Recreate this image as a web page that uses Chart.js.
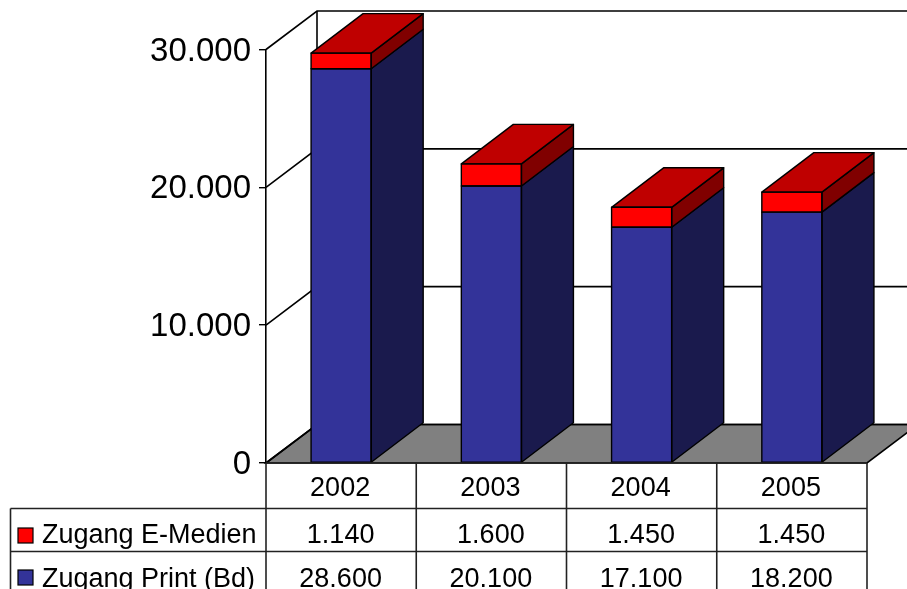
<!DOCTYPE html>
<html>
<head>
<meta charset="utf-8">
<style>
  html, body { margin: 0; padding: 0; background: #fff; overflow: hidden; }
  canvas { display: block; }
</style>
<script src="https://cdn.jsdelivr.net/npm/chart.js@4"></script>
</head>
<body>
<canvas id="myChart" width="907" height="589"></canvas>
<script>
const years = ["2002", "2003", "2004", "2005"];
const zugangPrint = [28600, 20100, 17100, 18200];
const zugangEMedien = [1140, 1600, 1450, 1450];
const yTicks = [0, 10000, 20000, 30000];
const labelEMedien = "Zugang E-Medien";
const labelPrint = "Zugang Print (Bd)";

const fontName = "'Liberation Sans', Arial, sans-serif";

function fmt(v) {
    return v.toLocaleString("de-DE");
}

function poly(ctx, pts, fill) {
    ctx.beginPath();
    ctx.moveTo(pts[0][0], pts[0][1]);
    for (let i = 1; i < pts.length; i++) ctx.lineTo(pts[i][0], pts[i][1]);
    ctx.closePath();
    if (fill) {
        ctx.fillStyle = fill;
        ctx.fill();
    }
    ctx.stroke();
}

function hline(ctx, x1, x2, y) {
    ctx.beginPath();
    ctx.moveTo(x1, y);
    ctx.lineTo(x2, y);
    ctx.stroke();
}

function vline(ctx, x, y1, y2) {
    ctx.beginPath();
    ctx.moveTo(x, y1);
    ctx.lineTo(x, y2);
    ctx.stroke();
}

// walls, floor and gridlines behind the bars
const wallsPlugin = {
    id: "walls",
    beforeDatasetsDraw(chart) {
        const ctx = chart.ctx;
        const a = chart.chartArea;
        const yScale = chart.scales.y;
        const dx = 51, dy = 38.5;
        const y0 = yScale.getPixelForValue(0);
        ctx.save();
        ctx.strokeStyle = "#000";
        ctx.lineWidth = 1.6;
        poly(ctx, [[a.left, y0], [a.left + dx, y0 - dy], [a.right + dx, y0 - dy], [a.right, y0]], "#808080");
        yTicks.forEach(function (t) {
            const y = yScale.getPixelForValue(t);
            ctx.beginPath();
            ctx.moveTo(a.left, y);
            ctx.lineTo(a.left + dx, y - dy);
            ctx.lineTo(a.right + dx, y - dy);
            ctx.stroke();
        });
        vline(ctx, a.left + dx, yScale.getPixelForValue(30000) - dy, y0 - dy);
        ctx.restore();
    },
    // side and top faces of the stacked bars, then the outlines of the front
    afterDatasetsDraw(chart) {
        const ctx = chart.ctx;
        const dx = 52, dy = 39.5;
        const printBars = chart.getDatasetMeta(0).data;
        const eBars = chart.getDatasetMeta(1).data;
        ctx.save();
        ctx.strokeStyle = "#000";
        ctx.lineWidth = 1.4;
        ctx.lineJoin = "round";
        printBars.forEach(function (bar, i) {
            const r = bar.x + bar.width / 2;
            const l = bar.x - bar.width / 2;
            const top = eBars[i];
            poly(ctx, [[r, bar.base], [r + dx, bar.base - dy], [r + dx, bar.y - dy], [r, bar.y]], "#1a1a4d");
            poly(ctx, [[r, bar.y], [r + dx, bar.y - dy], [r + dx, top.y - dy], [r, top.y]], "#800000");
            poly(ctx, [[l, top.y], [l + dx, top.y - dy], [r + dx, top.y - dy], [r, top.y]], "#bf0000");
            poly(ctx, [[l, bar.base], [r, bar.base], [r, bar.y], [l, bar.y]]);
            poly(ctx, [[l, bar.y], [r, bar.y], [r, top.y], [l, top.y]]);
        });
        ctx.restore();
    },
    // data table under the plot
    afterDraw(chart) {
        const ctx = chart.ctx;
        const a = chart.chartArea;
        const xScale = chart.scales.x;
        const row1 = 508.5, row2 = 551.5, h = chart.height;
        const tableLeft = 10.5;
        ctx.save();
        ctx.strokeStyle = "#222";
        ctx.lineWidth = 1.6;
        hline(ctx, a.left, a.right, a.bottom);
        hline(ctx, tableLeft, a.right, row1);
        hline(ctx, tableLeft, a.right, row2);
        vline(ctx, tableLeft, row1, h);
        vline(ctx, a.left, a.bottom, h);
        years.forEach(function (yr, i) {
            const x = a.left + (a.right - a.left) * (i + 1) / years.length;
            vline(ctx, x, a.bottom, h);
        });

        ctx.fillStyle = "#000";
        ctx.font = "27px " + fontName;
        ctx.textBaseline = "alphabetic";
        ctx.textAlign = "center";
        years.forEach(function (yr, i) {
            const x = xScale.getPixelForValue(i) - 0.5;
            ctx.fillText(fmt(zugangEMedien[i]), x, 543);
            ctx.fillText(fmt(zugangPrint[i]), x, 587);
        });
        ctx.textAlign = "left";
        ctx.fillText(labelEMedien, 42, 543);
        ctx.fillText(labelPrint, 42, 587);

        ctx.strokeStyle = "#000";
        ctx.lineWidth = 1.2;
        ctx.fillStyle = "#ff0000";
        ctx.fillRect(18, 528, 15, 15);
        ctx.strokeRect(18, 528, 15, 15);
        ctx.fillStyle = "#333399";
        ctx.fillRect(18, 570, 15, 15);
        ctx.strokeRect(18, 570, 15, 15);
        ctx.restore();
    }
};

const ctx = document.getElementById("myChart").getContext("2d");
const myChart = new Chart(ctx, {
    type: "bar",
    data: {
        labels: years,
        datasets: [{
            label: labelPrint,
            data: zugangPrint,
            backgroundColor: "#333399",
            borderWidth: 0
        }, {
            label: labelEMedien,
            data: zugangEMedien,
            backgroundColor: "#ff0000",
            borderWidth: 0
        }]
    },
    options: {
        responsive: false,
        animation: false,
        categoryPercentage: 1,
        barPercentage: 0.4,
        layout: { padding: { top: 49.5, right: 40, left: 0, bottom: 0 } },
        plugins: {
            legend: { display: false },
            title: { display: false },
            tooltip: { enabled: false }
        },
        scales: {
            x: {
                stacked: true,
                afterFit(scale) { scale.height = 126; },
                grid: { display: false },
                border: { display: false },
                ticks: {
                    color: "#000",
                    padding: 1,
                    labelOffset: -1,
                    maxRotation: 0,
                    font: { family: fontName, size: 27 }
                }
            },
            y: {
                stacked: true,
                min: 0,
                max: 30000,
                afterFit(scale) { scale.width = 266; },
                afterBuildTicks(scale) {
                    scale.ticks = yTicks.map(function (v) { return { value: v }; });
                },
                grid: {
                    drawOnChartArea: false,
                    drawTicks: true,
                    tickLength: 7,
                    lineWidth: 1.4,
                    color: "#000"
                },
                border: { display: true, color: "#000", width: 1.6 },
                ticks: {
                    color: "#000",
                    padding: 8,
                    labelOffset: 2,
                    font: { family: fontName, size: 33 },
                    callback(v) { return fmt(v); }
                }
            }
        }
    },
    plugins: [wallsPlugin]
});
</script>
</body>
</html>
